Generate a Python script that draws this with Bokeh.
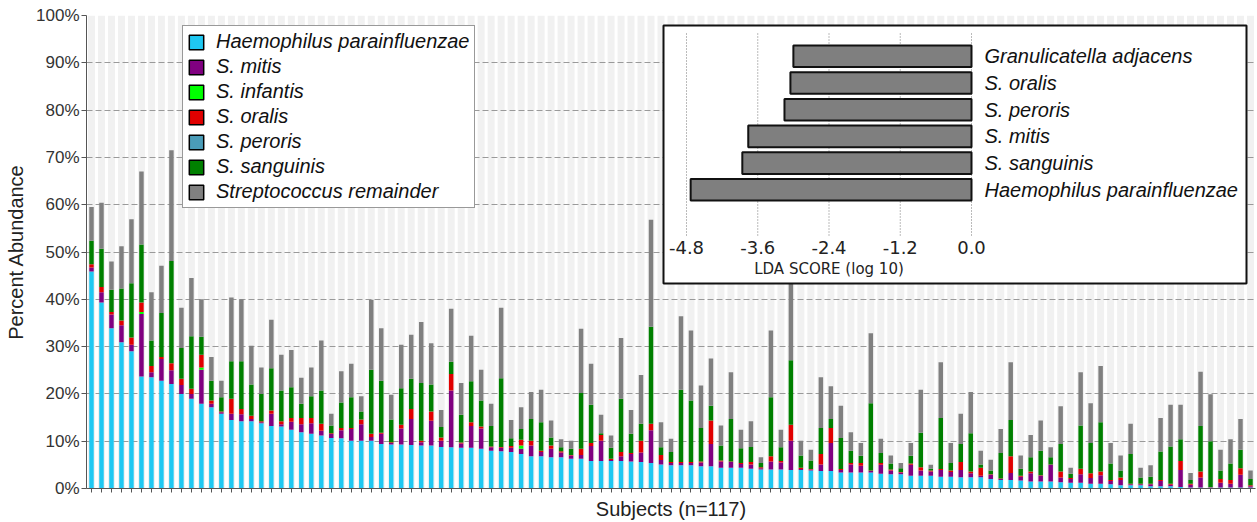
import numpy as np
from bokeh.plotting import figure
from bokeh.models import Range1d, FixedTicker, Legend, LegendItem, ColumnDataSource
from bokeh.core.properties import value
from bokeh.embed import file_html
from bokeh.resources import INLINE

# ---------------- data (percent abundance, read as cumulative stack tops) ----------------
haemophilus = [45.9, 39.3, 33.9, 30.9, 29.0, 23.7, 23.5, 22.8, 22.1, 20.0,
               19.0, 17.9, 17.2, 15.8, 14.5, 14.2, 14.2, 13.8, 13.2, 13.1,
               12.4, 11.9, 11.6, 11.2, 10.7, 10.6, 10.1, 10.1, 10.1, 9.4,
               9.3, 9.3, 9.2, 9.1, 9.1, 8.8, 8.7, 8.6, 8.6, 8.4,
               8.0, 7.9, 7.7, 7.3, 6.8, 6.8, 6.6, 6.6, 6.3, 6.3,
               5.8, 5.8, 5.8, 5.8, 5.7, 5.6, 5.4, 5.1, 4.9, 4.9,
               4.9, 4.7, 4.7, 4.4, 4.4, 4.4, 4.2, 4.0, 4.0, 4.0,
               3.9, 3.9, 3.8, 3.7, 3.7, 3.4, 3.4, 3.4, 3.4, 3.1,
               3.0, 3.0, 2.7, 2.7, 2.7, 2.5, 2.5, 2.4, 2.4, 2.4,
               2.0, 1.8, 1.8, 1.7, 1.5, 1.5, 1.5, 1.3, 1.2, 1.2,
               1.0, 1.0, 0.9, 0.7, 0.7, 0.7, 0.5, 0.5, 0.5, 0.3,
               0.2, 0.2, 0.2, 0.2, 0.2, 0.2, 0.2]
top_mitis = [46.7, 41.5, 36.8, 34.5, 30.4, 36.9, 24.6, 27.4, 25.0, 21.9,
             20.0, 25.1, 17.9, 16.1, 15.8, 15.7, 14.7, 14.0, 15.8, 13.6,
             14.1, 13.6, 13.8, 12.2, 11.5, 12.3, 12.6, 13.6, 10.9, 11.6,
             9.6, 12.7, 14.7, 9.8, 14.3, 10.1, 20.7, 9.5, 13.2, 12.7,
             8.7, 8.6, 8.6, 8.4, 9.1, 7.7, 8.4, 7.6, 7.0, 7.1,
             9.0, 10.1, 6.0, 6.8, 7.3, 7.6, 12.3, 6.0, 5.4, 5.4,
             5.4, 5.5, 9.4, 5.7, 5.6, 5.2, 5.1, 4.3, 5.7, 5.5,
             10.1, 4.1, 4.0, 5.1, 9.6, 3.9, 5.1, 4.8, 3.7, 5.0,
             3.8, 3.4, 5.0, 3.8, 3.6, 3.9, 3.5, 3.9, 3.2, 2.7,
             2.9, 2.0, 3.3, 2.5, 3.2, 2.7, 5.0, 2.3, 2.0, 3.0,
             2.2, 2.8, 1.6, 1.8, 0.9, 0.9, 0.9, 1.6, 0.8, 3.9,
             0.8, 2.3, 0.25, 1.2, 1.0, 2.9, 0.5]
infantis_nonzero = {6: 0.4, 12: 0.5, 44: 0.7}   # subject number -> % (others 0)
top_oralis = [47.4, 42.6, 37.3, 35.5, 31.9, 39.3, 25.9, 27.8, 26.5, 23.2,
              21.1, 28.3, 18.6, 16.3, 19.0, 16.8, 15.4, 14.2, 16.5, 14.2,
              14.9, 14.9, 14.9, 13.7, 11.7, 12.8, 12.8, 14.6, 11.6, 11.8,
              9.8, 13.5, 16.8, 10.1, 16.3, 10.8, 24.2, 9.7, 14.0, 13.1,
              8.9, 8.8, 9.0, 10.3, 10.1, 8.0, 9.1, 7.9, 7.1, 8.4,
              9.6, 11.3, 6.3, 7.7, 7.5, 10.1, 13.7, 7.1, 5.6, 5.6,
              5.6, 5.7, 14.4, 5.9, 5.7, 5.4, 5.6, 4.5, 6.8, 5.8,
              13.5, 4.4, 4.1, 7.3, 12.8, 4.1, 5.4, 5.4, 3.8, 5.4,
              4.0, 3.5, 5.3, 4.5, 3.8, 4.1, 3.8, 5.6, 3.6, 4.4,
              3.0, 2.1, 6.8, 2.7, 3.6, 2.8, 5.1, 3.6, 2.2, 4.2,
              3.2, 3.6, 1.8, 2.3, 1.0, 1.0, 1.0, 1.8, 1.0, 5.8,
              1.0, 3.6, 0.3, 2.0, 1.8, 4.3, 0.7]
top_sanguinis = [52.4, 50.7, 42.0, 42.3, 43.4, 51.6, 31.3, 37.1, 48.1, 29.7,
                 32.2, 32.1, 22.8, 19.3, 26.9, 26.9, 22.0, 20.0, 25.4, 20.7,
                 21.4, 17.9, 19.5, 20.7, 13.3, 18.2, 19.3, 16.3, 25.1, 22.8,
                 14.6, 21.2, 23.2, 22.3, 22.0, 13.0, 26.8, 15.6, 22.7, 18.6,
                 13.2, 23.3, 10.6, 12.6, 14.7, 14.0, 10.8, 8.7, 8.4, 20.2,
                 17.7, 11.7, 8.6, 19.0, 11.6, 13.7, 34.2, 8.7, 7.7, 20.9,
                 18.6, 12.8, 17.5, 9.1, 14.7, 8.5, 8.8, 5.4, 19.3, 8.7,
                 27.1, 7.0, 5.9, 12.8, 14.7, 10.7, 8.0, 6.9, 18.0, 7.5,
                 5.3, 4.3, 6.9, 11.8, 4.2, 14.9, 5.4, 9.4, 11.7, 5.1,
                 3.8, 7.5, 14.5, 4.2, 6.6, 8.0, 6.6, 9.4, 3.1, 13.3,
                 9.6, 14.0, 5.3, 3.8, 7.3, 2.3, 2.5, 7.8, 8.9, 10.4,
                 1.8, 13.2, 10.0, 3.8, 5.3, 8.2, 2.0]
top_total = [59.5, 60.4, 48.0, 51.2, 56.9, 67.0, 41.5, 47.1, 71.5, 38.2,
             44.5, 40.0, 27.8, 22.8, 40.4, 40.0, 30.2, 25.6, 35.7, 28.3,
             29.3, 23.4, 25.6, 31.3, 15.8, 24.8, 26.4, 19.5, 39.9, 33.9,
             19.8, 30.4, 32.5, 35.2, 30.7, 16.6, 38.0, 22.3, 32.3, 25.1,
             17.9, 38.2, 14.5, 17.2, 20.4, 20.9, 14.4, 10.4, 10.1, 33.8,
             26.4, 15.6, 11.2, 31.8, 16.6, 24.0, 56.8, 14.0, 10.5, 36.4,
             33.4, 21.8, 27.5, 13.3, 24.6, 12.4, 14.2, 6.6, 33.4, 12.4,
             50.0, 10.1, 8.2, 23.5, 21.6, 17.5, 11.9, 9.6, 32.8, 10.5,
             7.0, 5.4, 9.6, 20.9, 5.0, 26.7, 9.6, 15.8, 20.4, 8.0,
             6.1, 12.6, 26.7, 7.0, 11.3, 14.4, 8.7, 17.4, 4.4, 24.6,
             18.0, 25.9, 9.6, 7.0, 13.7, 4.4, 4.9, 14.9, 17.7, 17.7,
             3.3, 24.7, 19.9, 8.2, 10.4, 14.7, 3.8]

series_labels = ["Haemophilus parainfluenzae", "S. mitis", "S. infantis", "S. oralis",
                 "S. peroris", "S. sanguinis", "Streptococcus remainder"]
series_colors = ["#1fc8f2", "#800080", "#00ff00", "#e00000", "#4a9cb8", "#008000", "#808080"]

y_ticks = [0, 10, 20, 30, 40, 50, 60, 70, 80, 90, 100]

lda_taxa = ["Granulicatella adjacens", "S. oralis", "S. peroris", "S. mitis",
            "S. sanguinis", "Haemophilus parainfluenzae"]
lda_scores = [-3.0, -3.05, -3.15, -3.76, -3.86, -4.73]
lda_ticks = [-4.8, -3.6, -2.4, -1.2, 0.0]
lda_tick_labels = ["-4.8", "-3.6", "-2.4", "-1.2", "0.0"]

# ---------------- stack segments ----------------
n = len(haemophilus)
C = np.array(haemophilus); P = np.array(top_mitis); R = np.array(top_oralis)
G = np.array(top_sanguinis); T = np.array(top_total)
inf = np.zeros(n)
for k, v in infantis_nonzero.items():
    inf[k - 1] = v
keys = ["haemo", "mitis", "infantis", "oralis", "peroris", "sanguinis", "remainder"]
src = ColumnDataSource(dict(
    x=list(range(n)),
    haemo=C, mitis=P - C, infantis=inf, oralis=R - P - inf,
    peroris=np.zeros(n), sanguinis=G - R, remainder=T - G))

# ---------------- layout constants (page pixels) ----------------
FL, FR, FT, FB = 86, 1255, 15, 488          # frame edges on page
ZERO_PX, M48_PX = 971, 686                  # inset x positions of 0.0 and -4.8
ROW0_PX, ROW_PITCH = 55.8, 26.7             # inset first bar centre, pitch
ppu = (ZERO_PX - M48_PX) / 4.8

p = figure(width=1257, height=522, x_range=Range1d(-0.5, n - 0.5), y_range=Range1d(0, 100),
           output_backend="svg", toolbar_location=None,
           min_border_left=FL, min_border_right=1257 - FR, min_border_top=FT,
           min_border_bottom=522 - FB)
p.outline_line_color = None
p.xgrid.visible = False
p.ygrid.ticker = FixedTicker(ticks=y_ticks)
p.ygrid.grid_line_color = "#9a9a9a"
p.ygrid.grid_line_dash = "6 3"
p.ygrid.grid_line_width = 1

# background stripes
p.vbar(x="x", top=100, bottom=0, width=0.7, source=src, fill_color="#f1f1f1",
       line_color=None, level="image")

p.vbar_stack(keys, x="x", width=0.45, source=src, fill_color=series_colors,
             line_color=None)

# axes
p.yaxis.ticker = FixedTicker(ticks=y_ticks)
p.yaxis.major_label_overrides = {t: f"{t}%" for t in y_ticks}
p.yaxis.axis_label = "Percent Abundance"
p.xaxis.ticker = FixedTicker(ticks=list(range(n)))
p.xaxis.major_label_overrides = {i: "" for i in range(n)}
p.xaxis.major_label_text_font_size = "0px"
p.xaxis.major_label_standoff = 0
p.xaxis.axis_label = "Subjects (n=117)"
for ax in (p.xaxis, p.yaxis):
    ax.axis_label_text_font = "Liberation Sans"
    ax.axis_label_text_font_size = "20px"
    ax.axis_label_text_font_style = "normal"
    ax.axis_label_text_color = "#222222"
    ax.major_label_text_font = "Liberation Sans"
    ax.major_label_text_color = "#333333"
    ax.minor_tick_line_color = None
    ax.major_tick_in = 0
    ax.axis_line_color = "#555555"
    ax.major_tick_line_color = "#555555"
p.yaxis.major_label_text_font_size = "17px"
p.yaxis.major_tick_out = 5
p.yaxis.major_label_standoff = 2
p.yaxis.axis_label_standoff = 6
p.xaxis.major_tick_out = 4
p.xaxis.axis_label_standoff = 5

# legend (proxy renderers with black outlines; NaN height so nothing is plotted)
items = []
for lab, col in zip(series_labels, series_colors):
    r = p.vbar(x=[0], top=[float("nan")], width=0.5, fill_color=col, line_color="black",
               line_width=1.5)
    items.append(LegendItem(label=lab, renderers=[r]))
legend = Legend(items=items, location=(96, 280), label_text_font="Liberation Sans",
                label_text_font_style="italic", label_text_font_size="20px",
                label_text_color="#111111",
                glyph_height=18, glyph_width=18, label_height=20, label_standoff=11,
                spacing=2, padding=4, margin=0, border_line_color="#333333",
                border_line_width=1, background_fill_color="white", background_fill_alpha=1)
p.add_layout(legend)

# ---------------- inset LDA chart ----------------
p.extra_x_ranges = {"lda": Range1d(-4.8 - (M48_PX - FL) / ppu, (FR - ZERO_PX) / ppu)}
p.extra_y_ranges = {"lda": Range1d((FB - ROW0_PX) / ROW_PITCH, (FT - ROW0_PX) / ROW_PITCH)}
def lx(px):
    return (px - ZERO_PX) / ppu
def ly(px):
    return (px - ROW0_PX) / ROW_PITCH
kw = dict(x_range_name="lda", y_range_name="lda")

p.quad(left=[lx(663)], right=[lx(1246)], top=[ly(25)], bottom=[ly(283)],
       fill_color="white", line_color="#111111", line_width=2, level="annotation", **kw)
p.segment(x0=lda_ticks, x1=lda_ticks, y0=ly(33), y1=ly(237), line_color="#777777",
          line_dash="1 2", line_width=1, level="overlay", **kw)
rows = list(range(len(lda_taxa)))
p.hbar(y=rows, left=lda_scores, right=0, height=0.81, fill_color="#7f7f7f",
       line_color="#111111", line_width=2, level="overlay", **kw)
p.text(x=0, y=rows, text=lda_taxa, x_offset=13, text_font=value("Liberation Sans"),
       text_font_style="italic", text_font_size="20px", text_baseline="middle",
       text_color="#111111", level="overlay", **kw)
p.text(x=lda_ticks, y=ly(247), text=lda_tick_labels, text_align="center",
       text_baseline="middle", text_font=value("DejaVu Sans"), text_font_size="18px",
       text_color="#222222", level="overlay", **kw)
p.text(x=[(lda_ticks[0] + lda_ticks[-1]) / 2], y=[ly(268)], text=["LDA SCORE (log 10)"],
       text_align="center", text_baseline="middle", text_font=value("DejaVu Sans"),
       text_font_size="15px", text_color="#222222", level="overlay", **kw)

open("out.html", "w").write(file_html(p, INLINE))
